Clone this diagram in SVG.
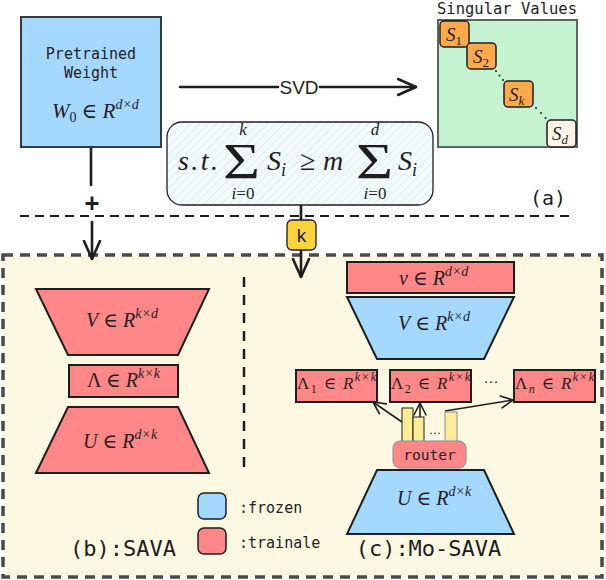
<svg xmlns="http://www.w3.org/2000/svg" width="606" height="580" viewBox="0 0 606 580">
<defs>
<pattern id="hatch" width="6" height="6" patternUnits="userSpaceOnUse" patternTransform="rotate(45)">
<rect width="6" height="6" fill="#f2fafb"/>
<line x1="0" y1="0" x2="0" y2="6" stroke="#d2ecf2" stroke-width="1.5"/>
</pattern>
<marker id="big" viewBox="0 0 20 20" refX="19" refY="10" markerWidth="20" markerHeight="20" markerUnits="userSpaceOnUse" orient="auto">
<path d="M1,2 L19,10 L1,18" fill="none" stroke="#1e1e1e" stroke-width="2.6" stroke-linecap="round" stroke-linejoin="round"/>
</marker>
<marker id="small" viewBox="0 0 14 14" refX="13" refY="7" markerWidth="14" markerHeight="14" markerUnits="userSpaceOnUse" orient="auto">
<path d="M1,1 L13,7 L1,13" fill="none" stroke="#1e1e1e" stroke-width="1.6" stroke-linecap="round" stroke-linejoin="round"/>
</marker>
</defs>
<style>
.mono{font-family:"DejaVu Sans Mono","Liberation Mono",monospace;fill:#1e1e1e}
.math{font-family:"Liberation Serif","DejaVu Serif",serif;fill:#1e1e1e}
.it{font-style:italic}
.red{fill:#ff8787;stroke:#1e1e1e;stroke-width:2}
.blue{fill:#a5d8ff;stroke:#1e1e1e;stroke-width:2}
.conn{fill:none;stroke:#1e1e1e;stroke-width:2.6;stroke-linecap:round}
.thin{fill:none;stroke:#1e1e1e;stroke-width:1.6}
.sv{fill:#ffa94d;stroke:#1e1e1e;stroke-width:1.5}
.bar{fill:#ffec99;stroke:#1e1e1e;stroke-width:1}
</style>
<rect width="606" height="580" fill="#ffffff"/>

<!-- background panels -->
<g id="panel-bottom">
<rect x="3" y="255" width="599" height="322" fill="#fdf8e2" stroke="#4a4a4a" stroke-width="3.5" stroke-dasharray="10 7"/>
</g>
<g id="separators">
<line x1="20" y1="216" x2="575" y2="216" stroke="#1e1e1e" stroke-width="2" stroke-dasharray="9 6"/>
<line x1="244" y1="277" x2="244" y2="473" stroke="#1e1e1e" stroke-width="2.5" stroke-dasharray="10 8"/>
</g>

<!-- connectors -->
<g id="connectors">
<line class="conn" x1="91" y1="147" x2="91" y2="185"/>
<text class="mono" x="92" y="211" font-size="24" text-anchor="middle" font-weight="bold">+</text>
<line class="conn" x1="92" y1="222" x2="92" y2="259" marker-end="url(#big)"/>
<line class="conn" x1="180" y1="87" x2="278" y2="87"/>
<text x="299" y="94" font-family="Liberation Sans, Arial, sans-serif" font-size="19" text-anchor="middle" fill="#1e1e1e">SVD</text>
<line class="conn" x1="320" y1="87" x2="416" y2="87" marker-end="url(#big)"/>
<line class="conn" x1="301" y1="196" x2="301" y2="221"/>
<line class="conn" x1="301" y1="250" x2="301" y2="277" marker-end="url(#big)"/>
<line class="thin" x1="402" y1="422" x2="373" y2="402" marker-end="url(#small)"/>
<line class="thin" x1="420" y1="417" x2="420" y2="403" marker-end="url(#small)"/>
<line class="thin" x1="445" y1="411" x2="513" y2="400" marker-end="url(#small)"/>
</g>

<!-- (a) -->
<g id="pretrained">
<rect x="21" y="17" width="140" height="130" fill="#a5d8ff" stroke="#343a40" stroke-width="2"/>
<text class="mono" x="91" y="59" font-size="15" text-anchor="middle" fill="#343a40">Pretrained</text>
<text class="mono" x="91" y="78" font-size="15" text-anchor="middle" fill="#343a40">Weight</text>
<text class="math" x="52" y="118" font-size="21"><tspan class="it">W</tspan><tspan font-size="14" dy="4">0</tspan><tspan dy="-4"> ∈ </tspan><tspan class="it">R</tspan><tspan class="it" font-size="14" dy="-9">d×d</tspan></text>
</g>

<g id="constraint">
<rect x="167" y="122" width="266" height="83" rx="15" fill="url(#hatch)" stroke="#1e1e1e" stroke-width="1.3"/>
<text class="math it" x="178" y="170" font-size="28" textLength="40">s.t.</text>
<text class="math" x="223" y="178" font-size="50" textLength="37" lengthAdjust="spacingAndGlyphs">Σ</text>
<text class="math it" x="243" y="135" font-size="17" text-anchor="middle">k</text>
<text class="math" x="243" y="199" font-size="17" text-anchor="middle"><tspan class="it">i</tspan>=0</text>
<text class="math" x="267" y="170" font-size="28"><tspan class="it">S</tspan><tspan class="it" font-size="18" dy="6">i</tspan></text>
<text class="math" x="300" y="170" font-size="28">≥</text>
<text class="math it" x="323" y="170" font-size="28">m</text>
<text class="math" x="356" y="178" font-size="50" textLength="37" lengthAdjust="spacingAndGlyphs">Σ</text>
<text class="math it" x="375" y="135" font-size="17" text-anchor="middle">d</text>
<text class="math" x="375" y="199" font-size="17" text-anchor="middle"><tspan class="it">i</tspan>=0</text>
<text class="math" x="398" y="170" font-size="28"><tspan class="it">S</tspan><tspan class="it" font-size="18" dy="6">i</tspan></text>
</g>

<g id="k-label">
<rect x="287" y="220" width="29" height="30" rx="5" fill="#ffd43b" stroke="#1e1e1e" stroke-width="1.3"/>
<text x="301.5" y="242" font-family="Liberation Sans, Arial, sans-serif" font-size="19" text-anchor="middle" fill="#1e1e1e">k</text>
</g>

<g id="singular-values">
<text class="mono" x="507" y="14" font-size="15.5" text-anchor="middle">Singular Values</text>
<rect x="438" y="20" width="139" height="127" fill="#c5f2d0" stroke="#5c665c" stroke-width="2"/>
<rect class="sv" x="440" y="21" width="29" height="26" rx="4"/>
<text class="math" x="446" y="41" font-size="19"><tspan class="it">S</tspan><tspan font-size="13" dy="4">1</tspan></text>
<rect class="sv" x="467" y="43" width="29" height="26" rx="4"/>
<text class="math" x="473" y="63" font-size="19"><tspan class="it">S</tspan><tspan font-size="13" dy="4">2</tspan></text>
<rect class="sv" x="504" y="81" width="29" height="26" rx="4"/>
<text class="math" x="509" y="101" font-size="19"><tspan class="it">S</tspan><tspan class="it" font-size="13" dy="4">k</tspan></text>
<rect x="547" y="120" width="29" height="27" rx="4" fill="#fff4e6" stroke="#1e1e1e" stroke-width="1.5"/>
<text class="math" x="552" y="140" font-size="19"><tspan class="it">S</tspan><tspan class="it" font-size="13" dy="4">d</tspan></text>
<g fill="#1e1e1e">
<circle cx="496" cy="71" r="1"/><circle cx="499.5" cy="75.5" r="1"/><circle cx="503" cy="80" r="1"/>
<circle cx="536" cy="108" r="1"/><circle cx="541" cy="113" r="1"/><circle cx="545.5" cy="118" r="1"/>
</g>
</g>
<g id="label-a">
<text class="mono" x="548" y="205" font-size="20" text-anchor="middle">(a)</text>
</g>

<!-- (b) SAVA -->
<g id="sava-V">
<polygon class="red" points="36,289 209,289 178,355 68,355"/>
<text class="math" x="86" y="327" font-size="20"><tspan class="it">V</tspan> ∈ <tspan class="it">R</tspan><tspan class="it" font-size="14" dy="-9">k×d</tspan></text>
</g>
<g id="sava-Lambda">
<rect class="red" x="69" y="365" width="109" height="32" stroke-width="2.2"/>
<text class="math" x="87" y="387" font-size="20">Λ ∈ <tspan class="it">R</tspan><tspan class="it" font-size="14" dy="-9">k×k</tspan></text>
</g>
<g id="sava-U">
<polygon class="red" points="68,407 178,407 209,473 36,473"/>
<text class="math" x="83" y="448" font-size="20"><tspan class="it">U</tspan> ∈ <tspan class="it">R</tspan><tspan class="it" font-size="14" dy="-9">d×k</tspan></text>
</g>
<g id="label-b">
<text class="mono" x="123" y="556" font-size="22" text-anchor="middle">(b):SAVA</text>
</g>

<!-- legend -->
<g id="legend-frozen">
<rect x="198" y="493" width="28" height="26" rx="6" fill="#a5d8ff" stroke="#1e1e1e" stroke-width="1.5"/>
<text class="mono" x="239" y="513" font-size="15">:frozen</text>
</g>
<g id="legend-trainable">
<rect x="198" y="528" width="28" height="26" rx="6" fill="#ff8787" stroke="#1e1e1e" stroke-width="1.5"/>
<text class="mono" x="239" y="548" font-size="15">:trainale</text>
</g>

<!-- (c) Mo-SAVA -->
<g id="mosava-v">
<rect class="red" x="347" y="262" width="167" height="31"/>
<text class="math" x="399" y="285" font-size="20"><tspan class="it">v</tspan> ∈ <tspan class="it">R</tspan><tspan class="it" font-size="14" dy="-9">d×d</tspan></text>
</g>
<g id="mosava-V">
<polygon class="blue" points="347,297 514,297 484,359 377,359"/>
<text class="math" x="398" y="330" font-size="20"><tspan class="it">V</tspan> ∈ <tspan class="it">R</tspan><tspan class="it" font-size="14" dy="-9">k×d</tspan></text>
</g>
<g id="mosava-Lambda1">
<rect class="red" x="296" y="370" width="81" height="32"/>
<text class="math" x="297" y="389" font-size="17" textLength="79">Λ<tspan font-size="12" dy="4">1</tspan><tspan dy="-4"> ∈ </tspan><tspan class="it">R</tspan><tspan class="it" font-size="12" dy="-8">k×k</tspan></text>
</g>
<g id="mosava-Lambda2">
<rect class="red" x="390" y="370" width="81" height="32"/>
<text class="math" x="391" y="389" font-size="17" textLength="79">Λ<tspan font-size="12" dy="4">2</tspan><tspan dy="-4"> ∈ </tspan><tspan class="it">R</tspan><tspan class="it" font-size="12" dy="-8">k×k</tspan></text>
</g>
<text class="math" x="491" y="387" font-size="15" text-anchor="middle">···</text>
<g id="mosava-Lambdan">
<rect class="red" x="514" y="370" width="81" height="32"/>
<text class="math" x="515" y="389" font-size="17" textLength="79">Λ<tspan class="it" font-size="12" dy="4">n</tspan><tspan dy="-4"> ∈ </tspan><tspan class="it">R</tspan><tspan class="it" font-size="12" dy="-8">k×k</tspan></text>
</g>
<g id="router-weights">
<rect class="bar" x="402" y="408" width="11" height="34"/>
<rect class="bar" x="413" y="417" width="11" height="25"/>
<text class="math" x="435" y="437" font-size="12" text-anchor="middle">···</text>
<rect x="445" y="412" width="12" height="30" fill="#ffec99" stroke="#868e96" stroke-width="1"/>
</g>
<g id="router">
<rect x="393" y="441" width="73" height="27" rx="7" fill="#ff8787" stroke="#868e96" stroke-width="1"/>
<text class="mono" x="429.5" y="460" font-size="14.5" text-anchor="middle">router</text>
</g>
<g id="mosava-U">
<polygon class="blue" points="377,470 484,470 514,534 347,534"/>
<text class="math" x="397" y="505" font-size="20"><tspan class="it">U</tspan> ∈ <tspan class="it">R</tspan><tspan class="it" font-size="14" dy="-9">d×k</tspan></text>
</g>
<g id="label-c">
<text class="mono" x="428.5" y="556" font-size="22" text-anchor="middle">(c):Mo-SAVA</text>
</g>
</svg>
